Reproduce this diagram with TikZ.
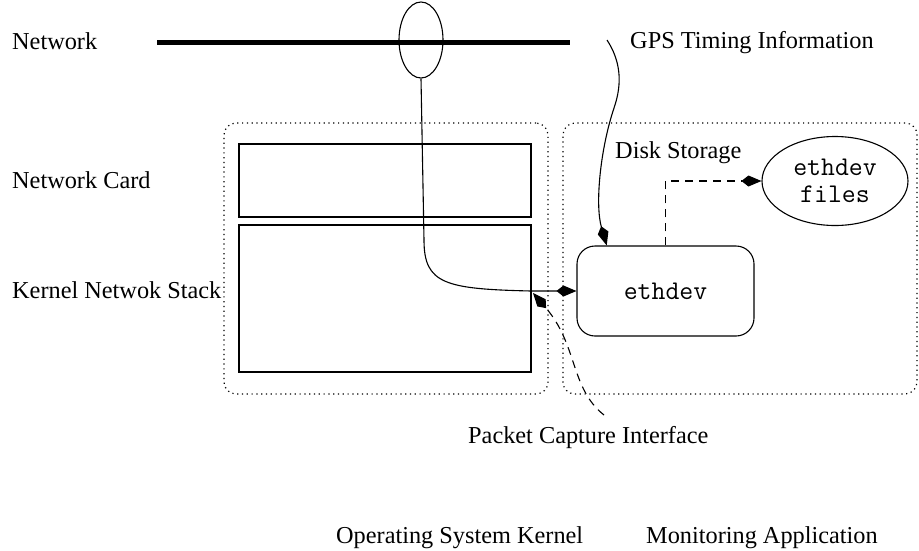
\documentclass[tikz,border=0pt]{standalone}
\usepackage{fontspec}
\setmainfont{Liberation Serif}
\usetikzlibrary{arrows.meta,shapes.geometric,calc}
\begin{document}
\begin{tikzpicture}[x=1pt,y=-1pt,
  lbl/.style={anchor=base west,inner sep=0pt,font=\fontsize{24.3}{28}\selectfont},
  region/.style={draw,line width=1.2pt,dash pattern=on 1.2pt off 3.6pt,
    rounded corners=12pt,inner sep=0pt},
  layer/.style={draw,line width=1.1pt,inner sep=0pt},
  wire/.style={line width=1.1pt},
  tip/.style={-{Kite[length=20pt,width=11pt,inset=7pt]}},
  dashline/.style={dash pattern=on 8pt off 6pt},
  tt/.style={font=\fontsize{27}{27}\selectfont\ttfamily}]
\useasboundingbox (0,0) rectangle (919,550);

% the two software regions
\node[region,minimum width=324pt,minimum height=271pt] (kernreg) at (386,258.5) {};
\node[region,minimum width=354pt,minimum height=271pt] (appreg) at (740,258.5) {};

% kernel layers
\node[layer,minimum width=292pt,minimum height=73pt] (card) at (385,180.5) {};
\node[layer,minimum width=292pt,minimum height=147pt] (stack) at (385,298.5) {};

% monitoring application parts
\node[draw,line width=1.1pt,rounded corners=18pt,minimum width=177pt,
  minimum height=90pt,tt] (eth) at (665.5,291) {ethdev};
\node[draw,ellipse,line width=1.1pt,minimum width=146pt,minimum height=89pt,
  inner sep=0pt,align=center,tt] (files) at (835,181) {ethdev\\files};

% the network cable and its tap
\coordinate (netL) at (157,42);
\coordinate (netR) at (570,42);
\draw[line width=5pt] (netL) -- (netR);
\node[draw,ellipse,line width=1.1pt,minimum width=44pt,minimum height=76pt,
  inner sep=0pt] (tap) at (421,40) {};

% labels
\node[lbl] (lnet) at (12,49) {Network};
\node[lbl] (lcard) at (12,188) {Network Card};
\node[lbl] (lstack) at (12,298) {Kernel Netwok Stack};
\node[lbl] (lgps) at (630,48) {GPS Timing Information};
\node[lbl] (ldisk) at (615,158) {Disk Storage};
\node[lbl] (lpci) at (468,443) {Packet Capture Interface};
\node[lbl] (loskern) at (336,543) {Operating System Kernel};
\node[lbl] (lmon) at (646,543) {Monitoring Application};

% packet path from the tap into ethdev
\draw[wire,tip] (tap.south) -- (424,240)
  .. controls (424,284) and (445,289) .. (531,291) -- (eth.west);

% GPS timing feed
\coordinate (gpsfrom) at (607,40);
\draw[wire,tip] (gpsfrom) .. controls (620,60) and (623,82) .. (614,108)
  .. controls (600,150) and (595,205) .. ($(eth.north west)!0.17!(eth.north east)$);

% ethdev writes its files
\draw[wire,dashline,tip] (eth.north) |- (files.west);

% packet capture interface
\coordinate (pcifrom) at (604,415);
\coordinate (pcito) at (533,293);
\draw[wire,dashline,tip] (pcifrom) .. controls (570,388) and (578,345) .. (pcito);
\end{tikzpicture}
\end{document}
